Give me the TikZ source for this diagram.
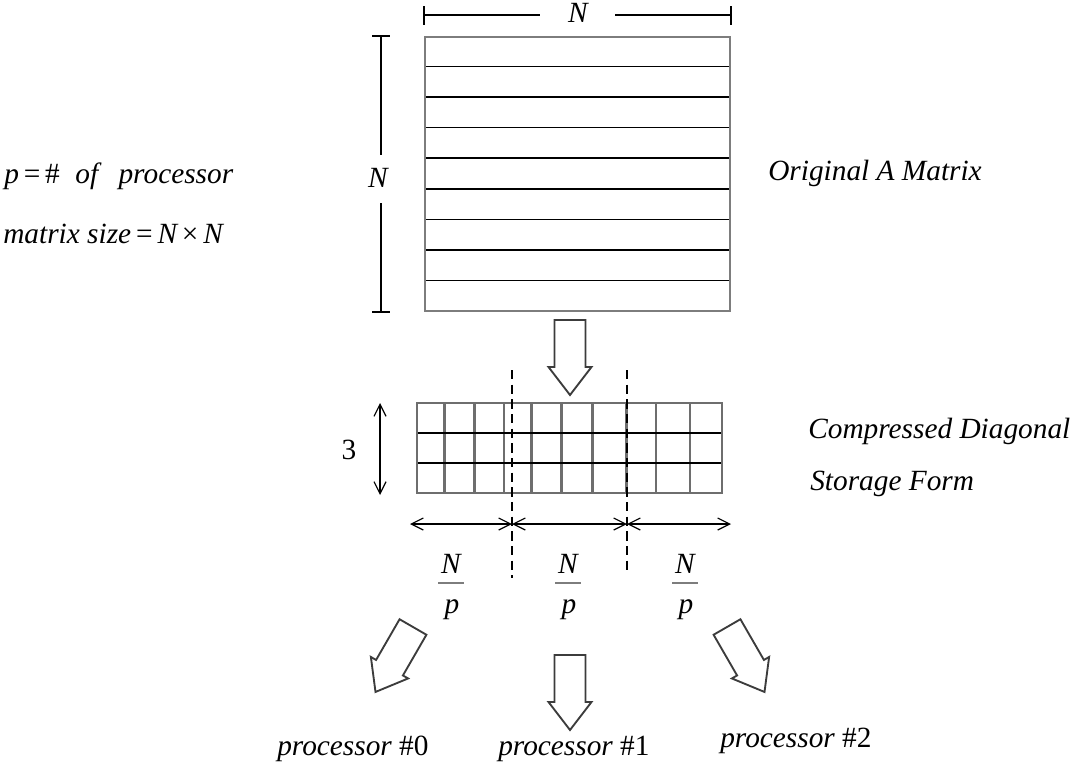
\documentclass[tikz,border=0pt]{standalone}
\usepackage{fontspec}
\setmainfont{Liberation Serif}
\usetikzlibrary{arrows.meta}
\definecolor{framegray}{RGB}{125,125,125}
\definecolor{gridgray}{RGB}{110,110,110}
\definecolor{arrowgray}{RGB}{60,60,60}
\begin{document}
\begin{tikzpicture}[x=0.75pt,y=-0.75pt,
  lbl/.style={font=\fontsize{22}{26}\selectfont\itshape, inner sep=0pt},
  num/.style={font=\fontsize{22}{26}\selectfont, inner sep=0pt},
  dimline/.style={line width=0.9pt, black},
  dimarrow/.style={line width=0.9pt, black,
    {Straight Barb[length=9pt,width=9pt]}-{Straight Barb[length=9pt,width=9pt]}},
  blockarrow/.style={draw=arrowgray, line width=1.4pt, fill=white, line join=miter},
  sepline/.style={line width=0.9pt, black, dash pattern=on 7pt off 4pt},
  fatarrow/.pic={
    \draw[blockarrow] (-15.5,0) -- (15.5,0) -- (15.5,47) -- (21.5,47)
      -- (0,75) -- (-21.5,47) -- (-15.5,47) -- cycle;
  },
]
\path[use as bounding box] (0,0) rectangle (1075,768);

% ---- original N x N matrix, one band per row ----
\foreach \y in {66.5,97,127.5,158,189,219.5,250,280.5}
  \draw[line width=1.2pt] (425,\y) -- (730,\y);
\draw[framegray, line width=2.2pt] (425,37) rectangle (730,311);

% width dimension
\node[lbl] (ntop) at (578,13) {N};
\coordinate (tl) at (424,15);
\coordinate (tr) at (731,15);
\draw[dimline] (tl) -- (540,15);
\draw[dimline] (615,15) -- (tr);
\draw[dimline] (424,6) -- (424,25);
\draw[dimline] (731,6) -- (731,25);

% height dimension
\node[lbl] (nleft) at (378,178) {N};
\draw[dimline] (381,36) -- (381,155);
\draw[dimline] (381,203) -- (381,312);
\draw[dimline] (372,36) -- (390,36);
\draw[dimline] (372,312) -- (390,312);

\node[lbl, anchor=base west] (orig) at (768,180) {Original A Matrix};

% ---- legend ----
\node[lbl, anchor=base west] (leg1) at (4,183)
  {p\,{\upshape =}\,{\upshape\#}\; of\;\, processor};
\node[lbl, anchor=base west] (leg2) at (3,243)
  {matrix size\,{\upshape =}\,N\,{\upshape ×}\,N};

% ---- transformation arrow ----
\pic at (570,320) {fatarrow};

% ---- compressed diagonal storage ----
\foreach \x in {444.3,474.3,504,531.7,561.7,592.3,626.7,656,690}
  \draw[gridgray, line width=2pt] (\x,403) -- (\x,493);
\foreach \y in {433,463}
  \draw[line width=1.1pt] (417,\y) -- (722,\y);
\draw[gridgray, line width=2pt] (417,403) rectangle (722,493);

\node[lbl, anchor=base west] (comp1) at (808,438) {Compressed Diagonal};
\node[lbl, anchor=base west] (comp2) at (810,490) {Storage Form};

% three diagonals
\coordinate (vt) at (380,403);
\coordinate (vb) at (380,495);
\draw[dimarrow] (vt) -- (vb);
\node[num] (three) at (349,450) {3};

% partition among processors
\draw[sepline] (512,370) -- (512,578);
\draw[sepline] (627,370) -- (627,572);

\coordinate (h0) at (410,524);
\coordinate (h1) at (512,524);
\coordinate (h2) at (627,524);
\coordinate (h3) at (731,524);
\draw[dimarrow] (h0) -- (h1);
\draw[dimarrow] (h1) -- (h2);
\draw[dimarrow] (h2) -- (h3);

% block widths N/p
\foreach \i/\x in {0/451,1/568,2/685} {
  \node[lbl, anchor=base] (fn\i) at (\x,573) {N};
  \draw[framegray, line width=1pt] (\x-13,583) -- (\x+13,583);
  \node[lbl, anchor=base] (fp\i) at (\x+1,613) {p};
}

% ---- distribution to processors ----
\pic[rotate=-30] at (413,627) {fatarrow};
\pic at (570,655) {fatarrow};
\pic[rotate=30] at (727,627) {fatarrow};

\node[lbl, anchor=base west] (proc0) at (277,755) {processor {\upshape\#0}};
\node[lbl, anchor=base west] (proc1) at (498,755) {processor {\upshape\#1}};
\node[lbl, anchor=base west] (proc2) at (720,747) {processor {\upshape\#2}};
\end{tikzpicture}
\end{document}
